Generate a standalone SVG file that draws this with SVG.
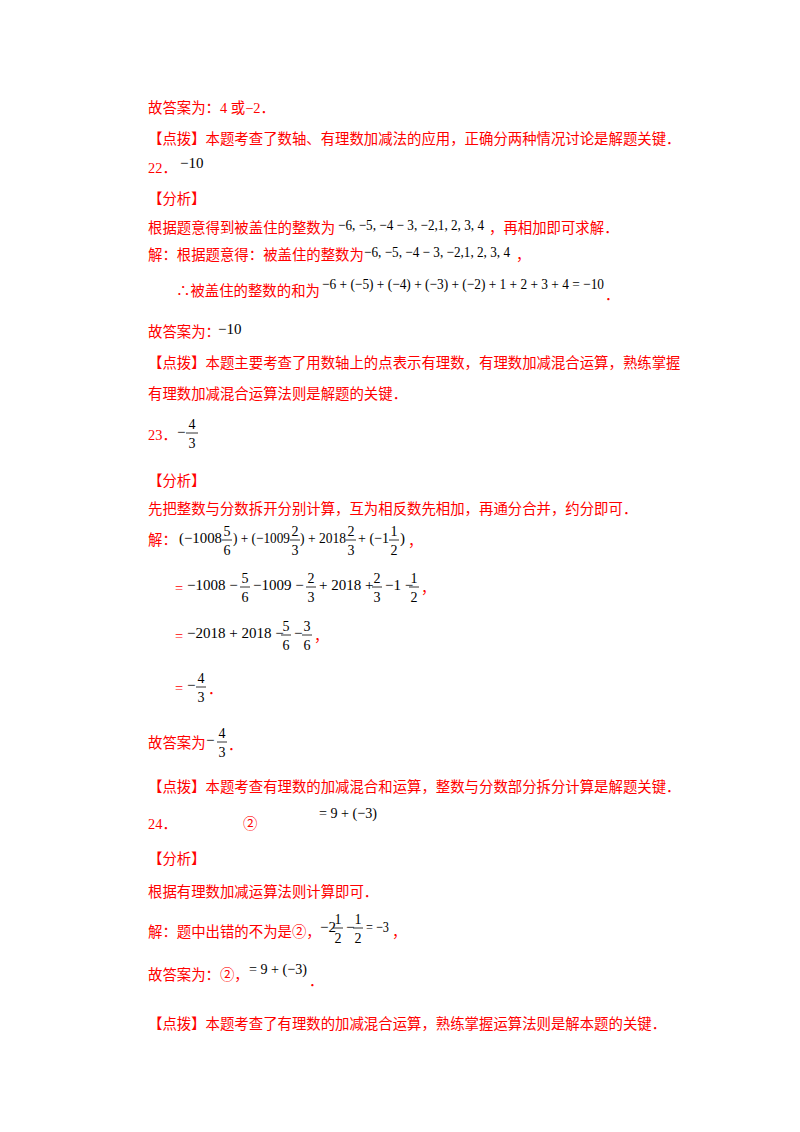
<svg xmlns="http://www.w3.org/2000/svg" width="800" height="1132" viewBox="0 0 800 1132">
<style>
.r{font-family:"Liberation Serif","Noto Sans CJK SC",serif;font-size:14.4px;fill:#f00}
.m{font-family:"Liberation Serif",serif;font-size:15px;fill:#000}
.f{font-family:"Liberation Serif",serif;font-size:14px;fill:#000;text-anchor:middle}
.b{stroke:#000;stroke-width:0.8}
</style>
<rect width="800" height="1132" fill="#fff"/>
<text class="r" x="148" y="113">故答案为：4 或−2．</text>
<text class="r" x="148" y="144">【点拨】本题考查了数轴、有理数加减法的应用，正确分两种情况讨论是解题关键．</text>
<text class="r" x="148" y="173">22．</text><text class="m" x="180" y="168">−10</text>
<text class="r" x="148" y="204">【分析】</text>
<text class="r" x="148" y="233">根据题意得到被盖住的整数为</text><text class="m" x="338" y="230" textLength="146" lengthAdjust="spacingAndGlyphs">−6, −5, −4 − 3, −2,1, 2, 3, 4</text><text class="r" x="489" y="233">，再相加即可求解．</text>
<text class="r" x="148" y="260">解：根据题意得：被盖住的整数为</text><text class="m" x="364" y="257" textLength="146" lengthAdjust="spacingAndGlyphs">−6, −5, −4 − 3, −2,1, 2, 3, 4</text><text class="r" x="516" y="260">，</text>
<text class="r" x="176" y="296">∴被盖住的整数的和为</text><text class="m" x="322" y="289" textLength="282" lengthAdjust="spacingAndGlyphs">−6 + (−5) + (−4) + (−3) + (−2) + 1 + 2 + 3 + 4 = −10</text><text class="r" x="605" y="300">．</text>
<text class="r" x="148" y="337">故答案为：</text><text class="m" x="218" y="334">−10</text>
<text class="r" x="148" y="368">【点拨】本题主要考查了用数轴上的点表示有理数，有理数加减混合运算，熟练掌握</text>
<text class="r" x="148" y="399">有理数加减混合运算法则是解题的关键．</text>
<text class="r" x="148" y="440">23．</text><text class="m" x="177" y="437">−</text><text class="f" x="192" y="429">4</text><line class="b" x1="186" y1="433" x2="198" y2="433"/><text class="f" x="192" y="448">3</text>
<text class="r" x="148" y="486">【分析】</text>
<text class="r" x="148" y="514">先把整数与分数拆开分别计算，互为相反数先相加，再通分合并，约分即可．</text>
<g id="line1">
<text class="r" x="148" y="545">解：</text>
<text class="m" x="179" y="543" textLength="43" lengthAdjust="spacingAndGlyphs">(−1008</text><text class="f" x="227" y="536">5</text><line class="b" x1="222" y1="540" x2="232" y2="540"/><text class="f" x="227" y="555">6</text>
<text class="m" x="233" y="543" textLength="57" lengthAdjust="spacingAndGlyphs">) + (−1009</text><text class="f" x="295" y="536">2</text><line class="b" x1="290" y1="540" x2="300" y2="540"/><text class="f" x="295" y="555">3</text>
<text class="m" x="300" y="543" textLength="46" lengthAdjust="spacingAndGlyphs">) + 2018</text><text class="f" x="351" y="536">2</text><line class="b" x1="346" y1="540" x2="356" y2="540"/><text class="f" x="351" y="555">3</text>
<text class="m" x="358" y="543" textLength="31" lengthAdjust="spacingAndGlyphs">+ (−1</text><text class="f" x="394" y="536">1</text><line class="b" x1="389" y1="540" x2="399" y2="540"/><text class="f" x="394" y="555">2</text>
<text class="m" x="400" y="543">)</text><text class="r" x="408" y="546">，</text>
</g>
<g id="line2">
<text class="r" x="175" y="593">=</text>
<text class="m" x="187" y="590">−1008 −</text><text class="f" x="245" y="583">5</text><line class="b" x1="240" y1="587" x2="250" y2="587"/><text class="f" x="245" y="602">6</text>
<text class="m" x="253" y="590">−1009 −</text><text class="f" x="311" y="583">2</text><line class="b" x1="306" y1="587" x2="316" y2="587"/><text class="f" x="311" y="602">3</text>
<text class="m" x="319" y="590">+ 2018 +</text><text class="f" x="377" y="583">2</text><line class="b" x1="372" y1="587" x2="382" y2="587"/><text class="f" x="377" y="602">3</text>
<text class="m" x="385" y="590">−1 −</text><text class="f" x="414" y="583">1</text><line class="b" x1="409" y1="587" x2="419" y2="587"/><text class="f" x="414" y="602">2</text>
<text class="r" x="421" y="593">，</text>
</g>
<g id="line3">
<text class="r" x="175" y="641">=</text>
<text class="m" x="187" y="638">−2018 + 2018 −</text><text class="f" x="286" y="631">5</text><line class="b" x1="281" y1="635" x2="291" y2="635"/><text class="f" x="286" y="650">6</text>
<text class="m" x="294" y="638">−</text><text class="f" x="307" y="631">3</text><line class="b" x1="302" y1="635" x2="312" y2="635"/><text class="f" x="307" y="650">6</text>
<text class="r" x="314" y="641">，</text>
</g>
<g id="line4">
<text class="r" x="175" y="693">=</text><text class="m" x="187" y="690">−</text><text class="f" x="201" y="683">4</text><line class="b" x1="196" y1="687" x2="206" y2="687"/><text class="f" x="201" y="702">3</text><text class="r" x="208" y="694">．</text>
</g>
<text class="r" x="148" y="748">故答案为</text><text class="m" x="206" y="745">−</text><text class="f" x="222" y="738">4</text><line class="b" x1="217" y1="742" x2="227" y2="742"/><text class="f" x="222" y="757">3</text><text class="r" x="228" y="750">．</text>
<text class="r" x="148" y="792">【点拨】本题考查有理数的加减混合和运算，整数与分数部分拆分计算是解题关键．</text>
<text class="r" x="148" y="829">24．</text><text class="r" x="243" y="829">②</text><text class="m" x="319" y="818" textLength="58" lengthAdjust="spacingAndGlyphs">= 9 + (−3)</text>
<text class="r" x="148" y="864">【分析】</text>
<text class="r" x="148" y="897">根据有理数加减运算法则计算即可．</text>
<text class="r" x="148" y="937">解：题中出错的不为是②，</text>
<text class="m" x="320" y="932">−2</text><text class="f" x="338" y="924">1</text><line class="b" x1="333" y1="928" x2="343" y2="928"/><text class="f" x="338" y="943">2</text>
<text class="m" x="346" y="932">−</text><text class="f" x="358" y="924">1</text><line class="b" x1="353" y1="928" x2="363" y2="928"/><text class="f" x="358" y="943">2</text>
<text class="m" x="366" y="932" textLength="23" lengthAdjust="spacingAndGlyphs">= −3</text><text class="r" x="392" y="937">，</text>
<text class="r" x="148" y="980">故答案为：②，</text><text class="m" x="249" y="974" textLength="58" lengthAdjust="spacingAndGlyphs">= 9 + (−3)</text><text class="r" x="309" y="986">．</text>
<text class="r" x="148" y="1029">【点拨】本题考查了有理数的加减混合运算，熟练掌握运算法则是解本题的关键．</text>
</svg>
